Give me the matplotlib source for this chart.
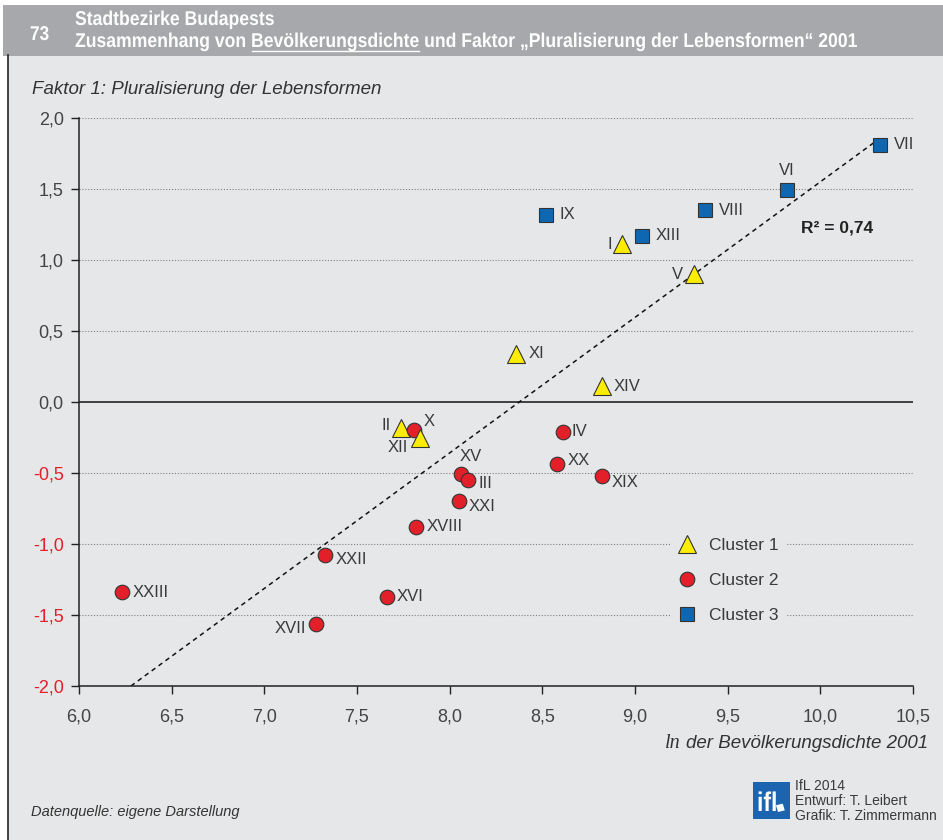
import numpy as np
import matplotlib
matplotlib.use("Agg")
import matplotlib.pyplot as plt
from matplotlib.patches import Rectangle, PathPatch
from matplotlib.lines import Line2D
from matplotlib.ticker import FixedLocator, FuncFormatter
from matplotlib.textpath import TextPath
from matplotlib.font_manager import FontProperties
from matplotlib.transforms import Affine2D, IdentityTransform

# ---------------- data ----------------
districts = ["VII", "VI", "VIII", "IX", "XIII", "I", "V", "XI", "XIV",
             "II", "X", "XII", "IV", "XX", "XV", "III", "XIX", "XXI",
             "XVIII", "XXII", "XVI", "XVII", "XXIII"]
ln_density = [10.32, 9.82, 9.38, 8.52, 9.04, 8.93, 9.32, 8.36, 8.82,
              7.74, 7.81, 7.84, 8.61, 8.58, 8.06, 8.10, 8.82, 8.05,
              7.82, 7.33, 7.66, 7.28, 6.23]
factor_1 = [1.81, 1.49, 1.35, 1.32, 1.17, 1.11, 0.90, 0.34, 0.11,
            -0.18, -0.20, -0.25, -0.21, -0.44, -0.51, -0.55, -0.52, -0.70,
            -0.88, -1.08, -1.37, -1.56, -1.34]
cluster = [3, 3, 3, 3, 3, 1, 1, 1, 1,
           1, 2, 1, 2, 2, 2, 2, 2, 2,
           2, 2, 2, 2, 2]
cluster_names = ["Cluster 1", "Cluster 2", "Cluster 3"]
r2_text = "R² = 0,74"
x_ticks = [6.0, 6.5, 7.0, 7.5, 8.0, 8.5, 9.0, 9.5, 10.0, 10.5]
y_ticks = [-2.0, -1.5, -1.0, -0.5, 0.0, 0.5, 1.0, 1.5, 2.0]

# label offsets in pixels (dx, dy, ha)
label_pos = {
    "VII": (14, 0, "left"), "VI": (0, 20, "center"), "VIII": (13, 0, "left"),
    "IX": (13, 0, "left"), "XIII": (13, 0, "left"), "I": (-10, 0, "right"),
    "V": (-11, 0, "right"), "XI": (12, 0, "left"), "XIV": (12, 0, "left"),
    "II": (-11, 2, "right"), "X": (9, 9, "left"), "XII": (-12, -10, "right"),
    "IV": (9, 0, "left"), "XX": (10, 4, "left"), "XV": (10, 18, "center"),
    "III": (10, -3, "left"), "XIX": (10, -7, "left"), "XXI": (10, -5, "left"),
    "XVIII": (10, 0, "left"), "XXII": (10, -4, "left"), "XVI": (10, 0, "left"),
    "XVII": (-10, -5, "right"), "XXIII": (11, 0, "left"),
}

# ---------------- style ----------------
W, H = 943, 840
BG = "#e6e7e8"
HEADER = "#a7a8ab"
TXT = "#3a3a3a"
RED = "#e3202a"
styles = {
    1: dict(marker="^", color="#ffed00", ms=12.5),
    2: dict(marker="o", color="#e3202a", ms=10.5),
    3: dict(marker="s", color="#0f67b1", ms=9.5),
}
SANS = ["Liberation Sans", "DejaVu Sans"]
plt.rcParams["font.family"] = SANS

fig = plt.figure(figsize=(W / 100, H / 100), dpi=100)
fig.patch.set_facecolor("white")


def fx(px):
    return px / W


def fy(py):
    return 1 - py / H


def condensed_text(x_px, base_py, s, size_px, sx=0.85, color="white"):
    """Draw bold condensed text as a path."""
    prop = FontProperties(family=SANS, weight="bold")
    tp = TextPath((0, 0), s, size=size_px, prop=prop)
    tr = Affine2D().scale(sx, 1).translate(x_px, H - base_py)
    fig.add_artist(PathPatch(tp, transform=tr + IdentityTransform(),
                             facecolor=color, edgecolor="none", lw=0))
    return tp.get_extents()


# body background and frame
fig.add_artist(Rectangle((fx(8), 0), 1 - fx(8), fy(55), transform=fig.transFigure,
                         facecolor=BG, edgecolor="none", zorder=0))
fig.add_artist(Line2D([fx(8), fx(8)], [0, fy(55)], transform=fig.transFigure,
                      color="#222222", lw=1.2, zorder=1))
# header bar
fig.add_artist(Rectangle((fx(3), fy(56)), 1 - fx(3), fy(5) - fy(56),
                         transform=fig.transFigure, facecolor=HEADER,
                         edgecolor="none", zorder=0))

ax = fig.add_axes([fx(79), fy(686), fx(913) - fx(79), fy(118) - fy(686)])
ax.patch.set_visible(False)
ax.set_xlim(6.0, 10.5)
ax.set_ylim(-2.0, 2.0)

# grid
for yv in y_ticks:
    if yv == 0:
        ax.axhline(yv, color="#111111", lw=1.1, zorder=1)
    else:
        ax.axhline(yv, color="#808080", lw=0.8, ls=(0, (1, 1.6)), zorder=1)

# regression line
xa = np.array(ln_density)
ya = np.array(factor_1)
slope, intercept = np.polyfit(xa, ya, 1)
x0 = (-2.0 - intercept) / slope
x1 = xa.max()
ax.plot([x0, x1], [slope * x0 + intercept, slope * x1 + intercept],
        color="#111111", lw=1.1, ls=(0, (3, 2.6)), zorder=2)

# points
for name, xv, yv, c in zip(districts, ln_density, factor_1, cluster):
    st = styles[c]
    ax.plot([xv], [yv], linestyle="none", marker=st["marker"], ms=st["ms"],
            markerfacecolor=st["color"], markeredgecolor="#333333",
            markeredgewidth=0.8, zorder=4)
    dx, dy, ha = label_pos[name]
    ax.annotate(name, (xv, yv), xytext=(dx, dy), textcoords="offset pixels",
                ha=ha, va="center", fontsize=12, color=TXT, zorder=5)

fig.text(fx(801), fy(228), r2_text, ha="left", va="center", fontsize=12.5,
         fontweight="bold", color="#222222")

# axes styling
for s in ["top", "right"]:
    ax.spines[s].set_visible(False)
for s in ["left", "bottom"]:
    ax.spines[s].set_color("#222222")
    ax.spines[s].set_linewidth(1.1)
ax.xaxis.set_major_locator(FixedLocator(x_ticks))
ax.yaxis.set_major_locator(FixedLocator(y_ticks))
fmt = FuncFormatter(lambda v, p: f"{v:.1f}".replace(".", ","))
ax.xaxis.set_major_formatter(fmt)
ax.yaxis.set_major_formatter(fmt)
ax.tick_params(axis="both", direction="out", length=6, width=1, color="#222222",
               labelsize=13, labelcolor="#444444")
ax.tick_params(axis="x", pad=10)
ax.tick_params(axis="y", pad=5)
for lab, v in zip(ax.get_yticklabels(), y_ticks):
    if v < 0:
        lab.set_color(RED)

# legend
handles = [Line2D([], [], linestyle="none", marker=styles[k]["marker"],
                  ms=styles[k]["ms"], markerfacecolor=styles[k]["color"],
                  markeredgecolor="#333333", markeredgewidth=0.8)
           for k in (1, 2, 3)]
leg = ax.legend(handles, cluster_names, loc="upper left",
                bbox_to_anchor=(fx(671), fy(531)), bbox_transform=fig.transFigure,
                borderaxespad=0, frameon=True, facecolor=BG, edgecolor="none",
                framealpha=1, fontsize=12.5, handlelength=1.0,
                handletextpad=0.8, labelspacing=1.15, borderpad=0.4)
for t in leg.get_texts():
    t.set_color(TXT)
leg.get_frame().set_boxstyle("square", pad=0)

# axis titles
fig.text(fx(32), fy(89), "Faktor 1: Pluralisierung der Lebensformen", ha="left",
         va="center", fontsize=13.5, style="italic", color="#333333")

renderer = fig.canvas.get_renderer()
xl_size = 13.5
t_main = fig.text(fx(928), fy(748), "der Bevölkerungsdichte 2001", ha="right",
                  va="baseline", fontsize=xl_size, style="italic", color="#333333")
bb = t_main.get_window_extent(renderer)
fig.text((bb.x0 - 0.27 * xl_size * 100 / 72) / W, fy(748), "ln", ha="right",
         va="baseline", fontsize=xl_size + 1, style="italic",
         family=["Liberation Serif", "DejaVu Serif"], color="#333333")

# header (bold condensed)
SX = 0.88
SIZE2 = 20
condensed_text(30, 40, "73", 20, sx=0.86)
condensed_text(75, 25, "Stadtbezirke Budapests", SIZE2, sx=SX)
title2 = "Zusammenhang von Bevölkerungsdichte und Faktor „Pluralisierung der Lebensformen“ 2001"
pre = "Zusammenhang von "
word = "Bevölkerungsdichte"
condensed_text(75, 47, title2, SIZE2, sx=SX)
hprop = FontProperties(family=SANS, weight="bold")
e_full = TextPath((0, 0), pre + word, size=SIZE2, prop=hprop).get_extents()
e_word = TextPath((0, 0), word, size=SIZE2, prop=hprop).get_extents()
ux1 = 75 + e_full.x1 * SX
ux0 = ux1 - (e_word.x1 - e_word.x0) * SX
fig.add_artist(Line2D([fx(ux0), fx(ux1)], [fy(50.5), fy(50.5)],
                      transform=fig.transFigure, color="white", lw=1.0))

# footer
fig.text(fx(31), fy(812), "Datenquelle: eigene Darstellung", ha="left", va="center",
         fontsize=10.5, style="italic", color="#333333")
fig.add_artist(Rectangle((fx(753), fy(819)), fx(790) - fx(753), fy(782) - fy(819),
                         transform=fig.transFigure, facecolor="#1d64b0",
                         edgecolor="none"))
condensed_text(757, 811, "ifl", 27, sx=0.85)
fig.add_artist(Rectangle((fx(778), fy(812)), fx(785) - fx(778), fy(805) - fy(812),
                         transform=fig.transFigure, facecolor="white",
                         edgecolor="none", angle=15))
for i, line in enumerate(["IfL 2014", "Entwurf: T. Leibert", "Grafik: T. Zimmermann"]):
    fig.text(fx(795), fy(786 + 15 * i), line, ha="left", va="center", fontsize=10,
             color="#3a3a3a")

fig.savefig("out.png", dpi=100, facecolor=fig.get_facecolor())
